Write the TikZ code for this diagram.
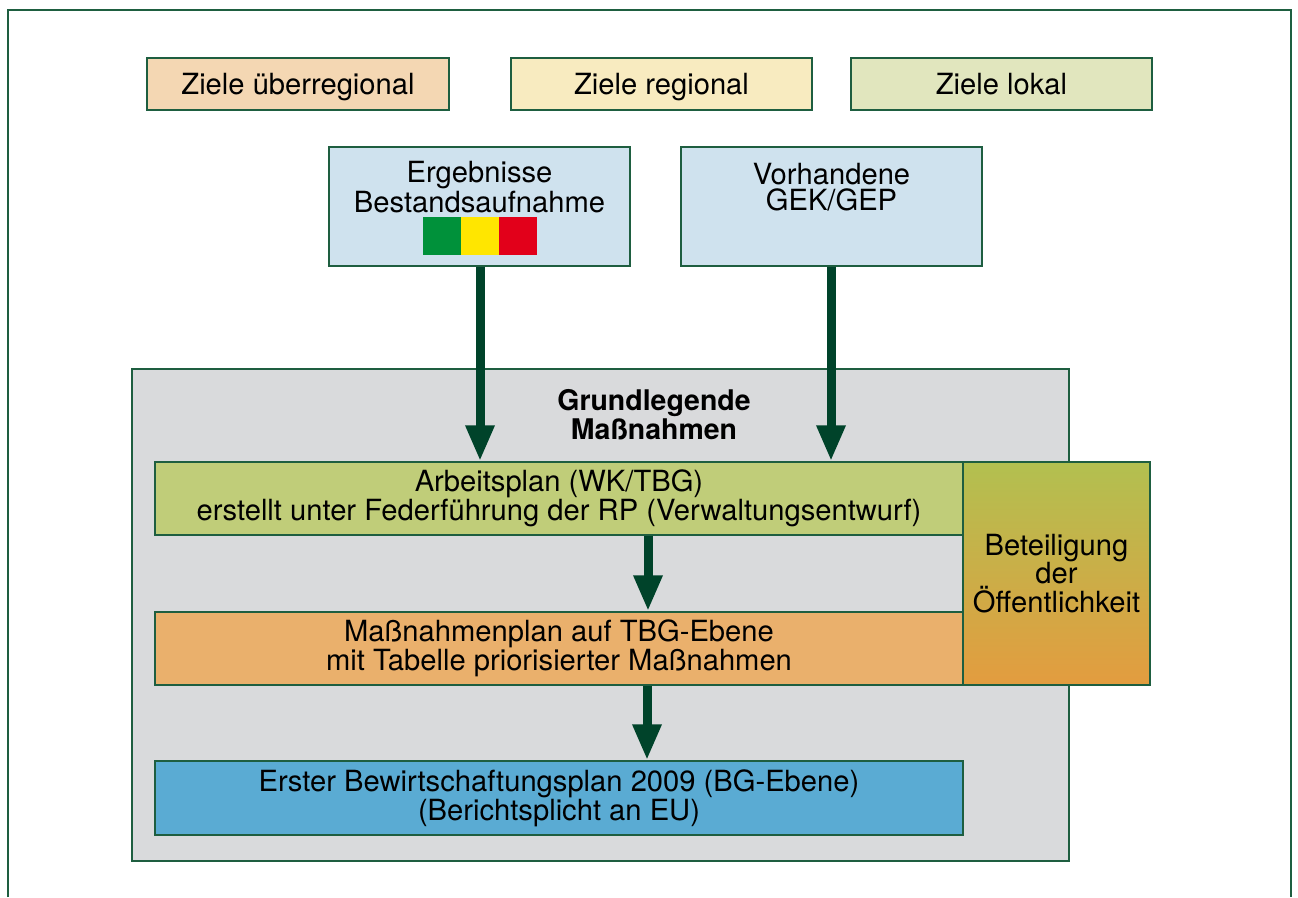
\documentclass[tikz,border=0pt]{standalone}
\usepackage{fontspec}
\setmainfont{TeX Gyre Heros}
\usetikzlibrary{arrows.meta}
\definecolor{bord}{HTML}{1E5E40}
\definecolor{arr}{HTML}{00432A}
\definecolor{cZU}{HTML}{F4D7B3}
\definecolor{cZR}{HTML}{F8EBC0}
\definecolor{cZL}{HTML}{E1E6BE}
\definecolor{cBl}{HTML}{CFE2EE}
\definecolor{cGr}{HTML}{D9DADC}
\definecolor{cAr}{HTML}{C0CD79}
\definecolor{cMa}{HTML}{EAB06C}
\definecolor{cEr}{HTML}{5AABD3}
\definecolor{gTop}{HTML}{B2C050}
\definecolor{gBot}{HTML}{E39C3F}
\definecolor{bG}{HTML}{00913A}
\definecolor{bY}{HTML}{FFE600}
\definecolor{bR}{HTML}{E2001A}
\tikzset{
  box/.style={draw=bord, line width=0.03cm, rectangle, inner sep=0pt, align=center,
    font=\fontsize{16.6}{15.1}\selectfont},
  goal/.style={box, minimum height=1.04cm, text height=12pt, text depth=0pt},
  txt/.style={inner sep=0pt, align=center, font=\fontsize{16.6}{15.1}\selectfont},
  bar/.style={inner sep=0pt, minimum width=0.76cm, minimum height=0.76cm},
  flow/.style={draw=arr, line width=0.18cm, -{Triangle[width=0.54cm,length=0.72cm]}},
}
\begin{document}
\begin{tikzpicture}[x=0.02cm, y=-0.02cm]
\useasboundingbox (0,0) rectangle (1298,897);
\draw[bord, line width=0.03cm] (8,897) -- (8,10) -- (1291,10) -- (1291,897);
% top goals
\node[goal, fill=cZU, minimum width=6.04cm] (zu) at (298,84) {Ziele überregional};
\node[goal, fill=cZR, minimum width=6.02cm] (zr) at (661.5,84) {Ziele regional};
\node[goal, fill=cZL, minimum width=6.02cm] (zl) at (1001.5,84) {Ziele lokal};
% result boxes
\node[box, fill=cBl, minimum width=6.02cm, minimum height=2.38cm] (erg) at (479.5,206.5) {};
\node[txt] (ergt) at (479.5,187) {Ergebnisse\\Bestandsaufnahme};
\node[bar, fill=bG] (bg) at (442,236) {};
\node[bar, fill=bY] (by) at (480,236) {};
\node[bar, fill=bR] (br) at (518,236) {};
\node[box, fill=cBl, minimum width=6.02cm, minimum height=2.38cm] (vor) at (831.5,206.5) {};
\node[txt] (vort) at (831.5,187) {Vorhandene\\GEK/GEP};
% grey area
\node[box, fill=cGr, minimum width=18.74cm, minimum height=9.84cm] (grey) at (600.5,615) {};
\node[txt, font=\fontsize{16.2}{15.1}\selectfont\bfseries] (gm) at (654,415) {Grundlegende\\Maßnahmen};
\node[box, fill=cAr, minimum width=16.16cm, minimum height=1.46cm] (arb) at (559,498.5) {Arbeitsplan (WK/TBG)\\erstellt unter Federführung der RP (Verwaltungsentwurf)};
\node[box, top color=gTop, bottom color=gBot, minimum width=3.74cm, minimum height=4.46cm,
  font=\fontsize{16.6}{16.4}\selectfont] (bet) at (1056.5,573.5) {Beteiligung\\der\\Öffentlichkeit};
\node[box, fill=cMa, minimum width=16.16cm, minimum height=1.46cm] (mas) at (559,648.5) {Maßnahmenplan auf TBG-Ebene\\mit Tabelle priorisierter Maßnahmen};
\node[box, fill=cEr, minimum width=16.16cm, minimum height=1.48cm] (ers) at (559,798) {Erster Bewirtschaftungsplan 2009 (BG-Ebene)\\(Berichtsplicht an EU)};
% arrows
\coordinate (m1) at (480,0);
\coordinate (m2) at (831,0);
\coordinate (m3) at (648,0);
\coordinate (m4) at (647,0);
\draw[flow] (erg.south -| m1) -- (arb.north -| m1);
\draw[flow] (vor.south -| m2) -- (arb.north -| m2);
\draw[flow] (arb.south -| m3) -- (mas.north -| m3);
\draw[flow] (mas.south -| m4) -- (ers.north -| m4);
\end{tikzpicture}
\end{document}
